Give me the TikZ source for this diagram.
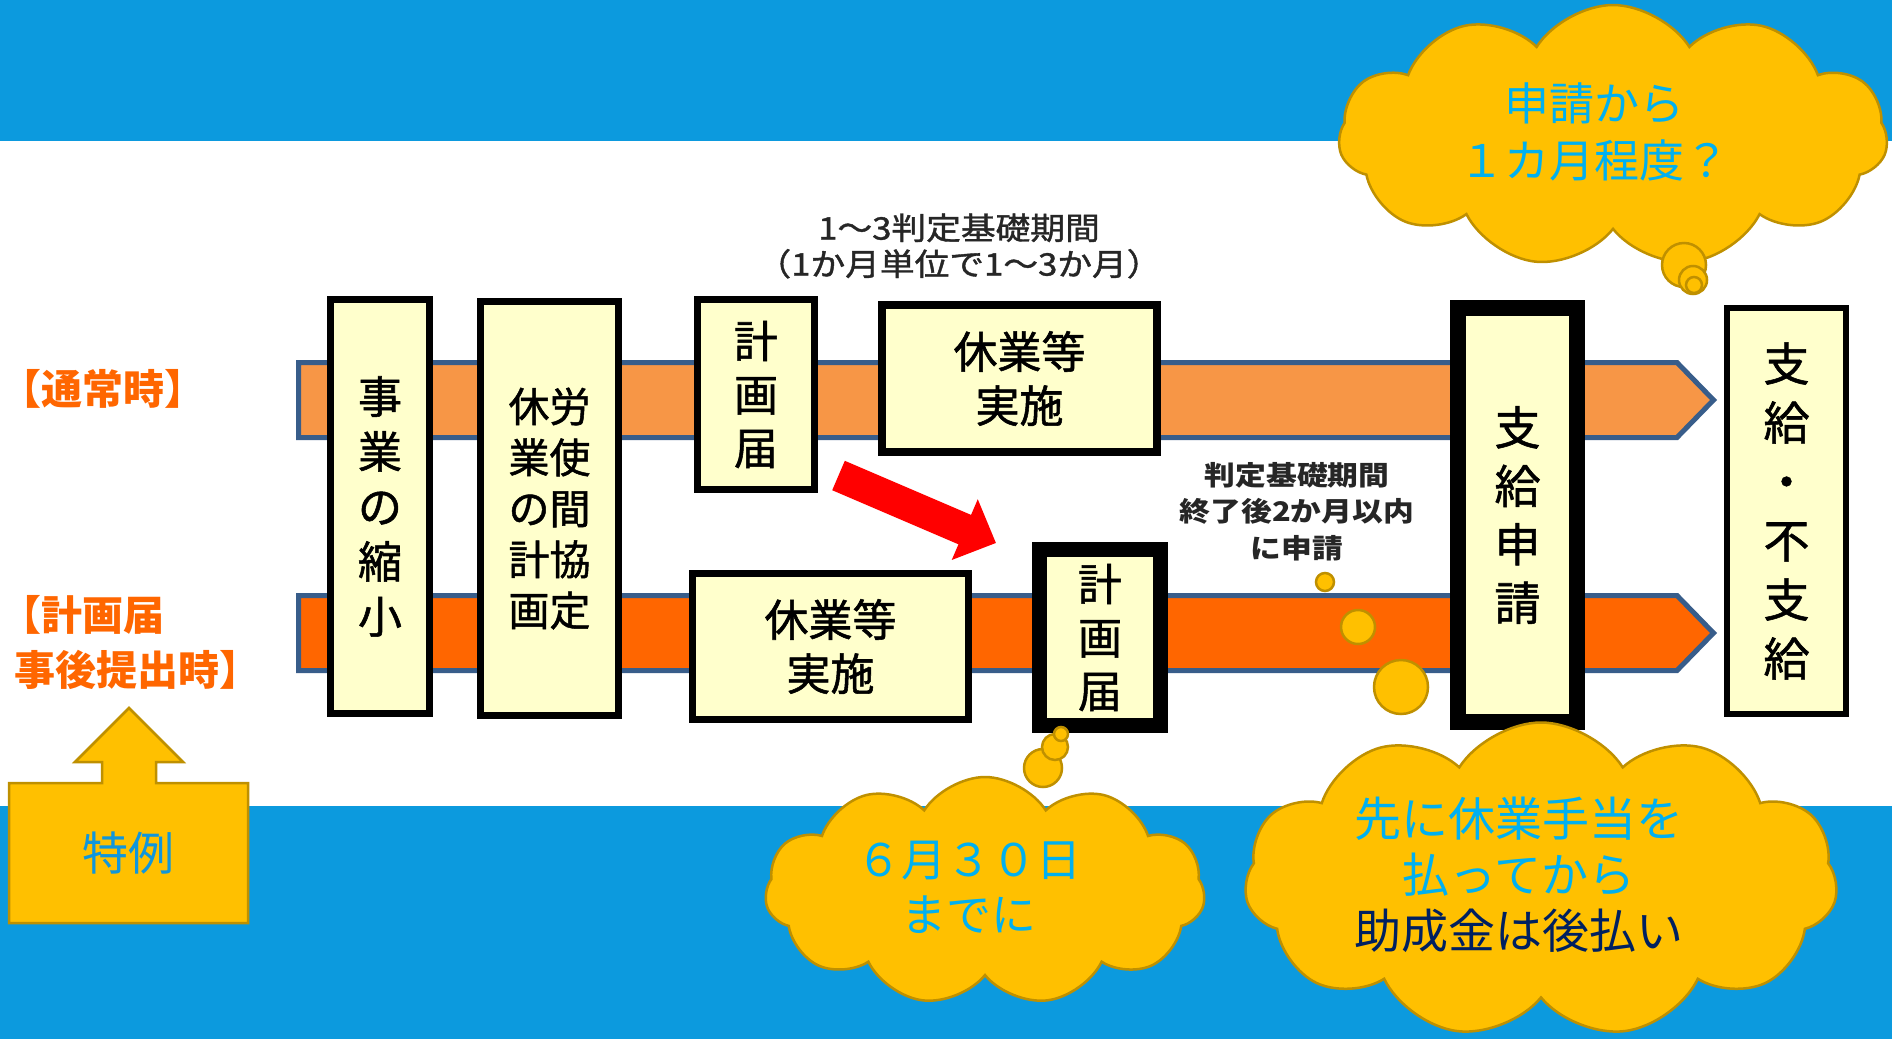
\documentclass[tikz,border=0pt]{standalone}
\usepackage{fontspec}
\newfontfamily\jp{Noto Sans CJK JP}
\newfontfamily\jpm{Noto Sans CJK JP}[FakeBold=1.2]
\usetikzlibrary{shapes.symbols,arrows.meta}
\definecolor{bandblue}{RGB}{12,154,222}
\definecolor{bandline}{RGB}{56,93,138}
\definecolor{orangeL}{RGB}{247,150,70}
\definecolor{orangeD}{RGB}{255,102,0}
\definecolor{boxfill}{RGB}{255,255,204}
\definecolor{cloudfill}{RGB}{255,192,0}
\definecolor{cloudline}{RGB}{191,144,0}
\definecolor{cyantext}{RGB}{0,176,240}
\definecolor{navytext}{RGB}{0,32,96}
\definecolor{tokureiblue}{RGB}{16,150,220}
\definecolor{labelorange}{RGB}{255,102,0}
\definecolor{arrowred}{RGB}{255,0,0}
\begin{document}
\begin{tikzpicture}[x=1pt,y=-1pt,
  box/.style={draw=black, fill=boxfill, line width=7pt, inner sep=0pt, align=center},
  band/.style={draw=bandline, line width=5pt, line join=miter},
  lab/.style={text=labelorange, inner sep=0pt, anchor=west, align=left},
  note/.style={text=black!85, inner sep=0pt, align=center},
  cloudbox/.style={cloud, cloud puffs=11, cloud puff arc=115, cloud ignores aspect, fill=cloudfill, draw=cloudline, line width=2.5pt, inner sep=0pt},
  bubble/.style={circle, fill=cloudfill, draw=cloudline, line width=2.5pt, inner sep=0pt},
  cloudtext/.style={text=cyantext, inner sep=0pt, align=center},
  blockarrow/.style={fill=cloudfill, draw=cloudline, line width=2.5pt, line join=miter},
  redarrow/.style={draw=arrowred, line width=32pt, -{Triangle[length=34pt,width=64pt]}}
]
\useasboundingbox (0,0) rectangle (1892,1039);
\fill[white] (0,0) rectangle (1892,1039);
\fill[bandblue] (0,0) rectangle (1892,141);
\fill[bandblue] (0,806) rectangle (1892,1039);

% process bands
\path[band, fill=orangeL] (298.5,362.5) -- (1677,362.5) -- (1713.5,400) -- (1677,437.5) -- (298.5,437.5) -- cycle;
\path[band, fill=orangeD] (298.5,595.5) -- (1677,595.5) -- (1713.5,633) -- (1677,670.5) -- (298.5,670.5) -- cycle;

% boxes
\node[box, minimum width=99pt, minimum height=414pt, font=\jpm\fontsize{44}{55}\selectfont] (jigyo) at (380,506.5) {事\\業\\の\\縮\\小};
\node[box, minimum width=138pt, minimum height=414pt, font=\jpm\fontsize{41}{51}\selectfont] (roshi) at (549.5,508.5) {休労\\業使\\の間\\計協\\画定};
\node[box, minimum width=117pt, minimum height=190pt, font=\jpm\fontsize{44}{53.5}\selectfont] (keikakuA) at (756,394.5) {計\\画\\届};
\node[box, line width=8pt, minimum width=275pt, minimum height=147pt, font=\jpm\fontsize{44}{54}\selectfont] (kyugyoA) at (1019.5,378.5) {休業等\\実施};
\node[box, minimum width=276pt, minimum height=146pt, font=\jpm\fontsize{44}{54}\selectfont] (kyugyoB) at (830.5,646.5) {休業等\\実施};
\node[box, line width=15pt, minimum width=121pt, minimum height=176pt, font=\jpm\fontsize{44}{53.5}\selectfont] (keikakuB) at (1100,637.5) {計\\画\\届};
\node[box, line width=16pt, minimum width=119pt, minimum height=414pt, font=\jpm\fontsize{46}{58.5}\selectfont] (shikyu) at (1517.5,515) {支\\給\\申\\請};
\node[box, line width=6pt, minimum width=119pt, minimum height=406pt, font=\jpm\fontsize{46}{59}\selectfont] (kekka) at (1786.5,511) {支\\給\\・\\不\\支\\給};

% red arrow
\coordinate (ra1) at (838.5,475.5);
\coordinate (ra2) at (996,543);
\draw[redarrow] (ra1) -- (ra2);

% left labels
\node[lab, font=\jp\bfseries\fontsize{41}{55}\selectfont] (tsujo) at (0,389) {【通常時】};
\node[lab, font=\jp\bfseries\fontsize{41}{55}\selectfont] (jigo) at (14,642.5) {\hspace*{-14pt}【計画届\\事後提出時】};

% notes
\node[note, font=\jpm\fontsize{31}{36}\selectfont] (period) at (959,246) {\scalebox{1.12}[1]{1～3判定基礎期間}\\\scalebox{1.12}[1]{（1か月単位で1～3か月）}};
\node[note, font=\jp\bfseries\fontsize{27}{36.5}\selectfont] (deadline) at (1297,511.5) {\scalebox{1.14}[1]{判定基礎期間}\\\scalebox{1.14}[1]{終了後2か月以内}\\\scalebox{1.14}[1]{に申請}};

% special case block arrow
\path[blockarrow] (129,708) -- (183,762) -- (156,762) -- (156,783) -- (248,783) -- (248,923) -- (9,923) -- (9,783) -- (102,783) -- (102,762) -- (75,762) -- cycle;
\node[text=tokureiblue, inner sep=0pt, font=\jp\fontsize{46}{50}\selectfont] (tokurei) at (128,853) {特例};

% clouds
\node[cloudbox, minimum width=549pt, minimum height=262pt] (cloudA) at (1613,136) {};
\node[cloudbox, minimum width=440pt, minimum height=228pt] (cloudB) at (985,891) {};
\node[cloudbox, minimum width=593pt, minimum height=315pt] (cloudC) at (1541,880) {};

% thought bubbles
\node[bubble, minimum size=44pt] (bA1) at (1684,265) {};
\node[bubble, minimum size=28pt] (bA2) at (1693,280) {};
\node[bubble, minimum size=16pt] (bA3) at (1694,285) {};
\node[bubble, minimum size=38pt] (bB1) at (1043,768) {};
\node[bubble, minimum size=26pt] (bB2) at (1055,747) {};
\node[bubble, minimum size=14pt] (bB3) at (1061,734) {};
\node[bubble, minimum size=18pt] (bC1) at (1325,582) {};
\node[bubble, minimum size=34pt] (bC2) at (1358,627) {};
\node[bubble, minimum size=54pt] (bC3) at (1401,687) {};

% cloud texts
\node[cloudtext, font=\jp\fontsize{45}{57}\selectfont] (textA) at (1594,131.5) {申請から\\１カ月程度？};
\node[cloudtext, font=\jp\fontsize{45}{55}\selectfont] (textB) at (969,887.5) {６月３０日\\までに};
\node[cloudtext, font=\jp\fontsize{47}{56}\selectfont] (textC) at (1519,875) {先に休業手当を\\払ってから\\\textcolor{navytext}{助成金は後払い}};
\end{tikzpicture}
\end{document}
